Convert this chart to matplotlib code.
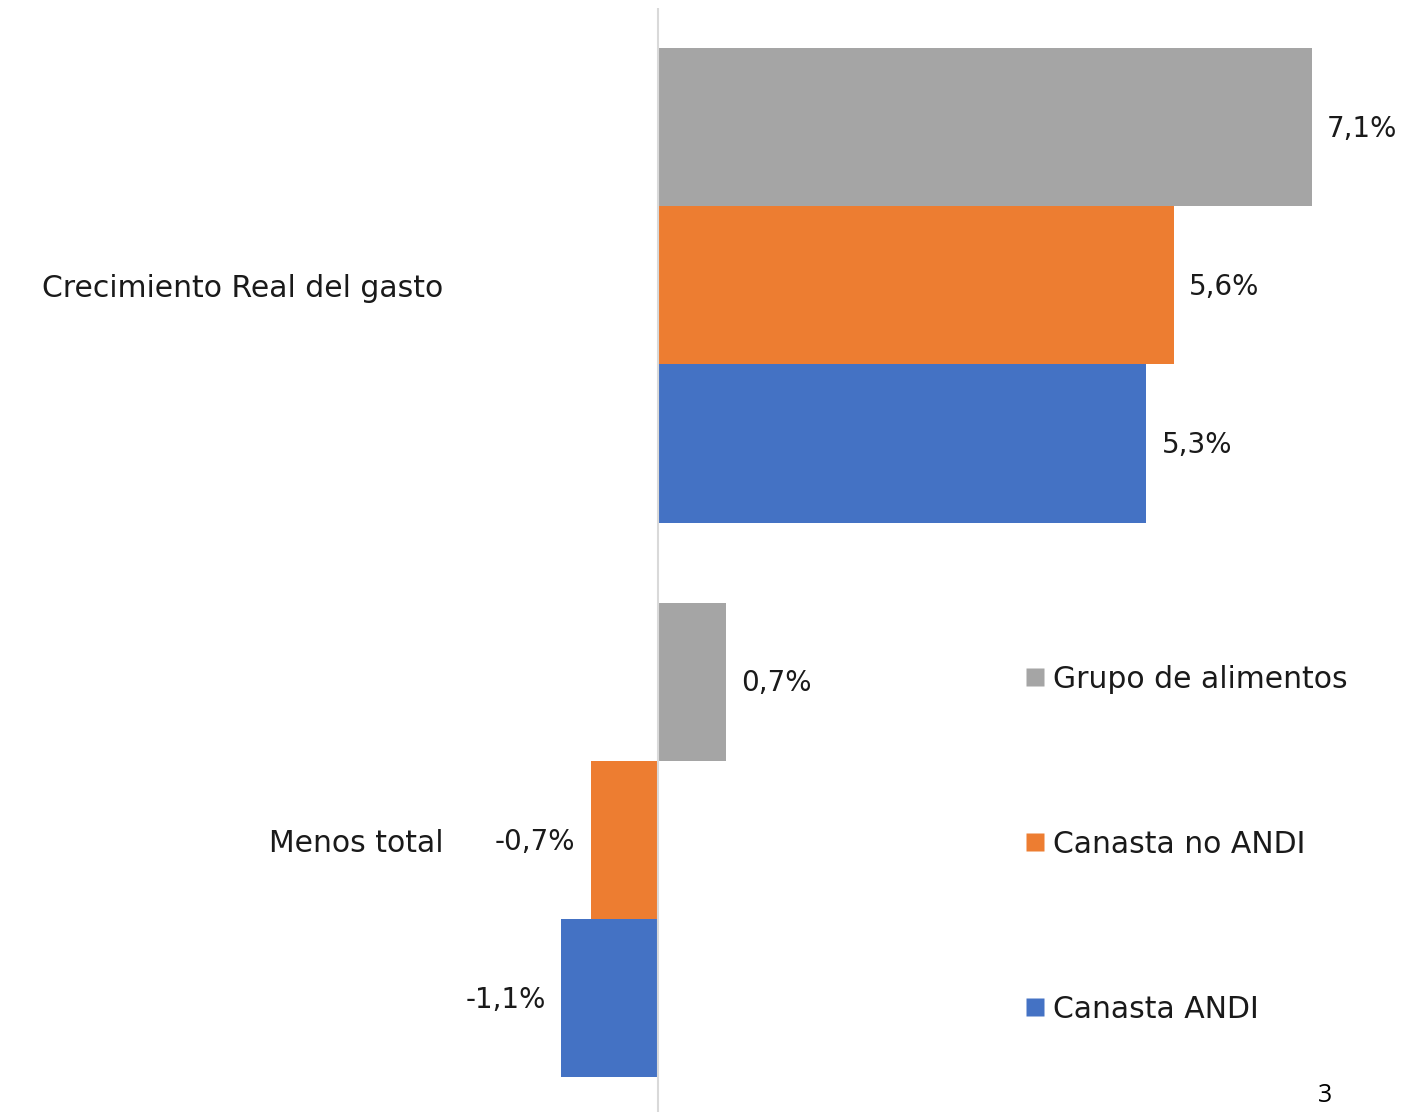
import matplotlib
matplotlib.use("Agg")
import matplotlib.pyplot as plt
from matplotlib.lines import Line2D
import numpy as np

plt.rcParams['font.family'] = ['DejaVu Sans']

categories = ["Crecimiento Real del gasto", "Menos total"]
series_names = ["Grupo de alimentos", "Canasta no ANDI", "Canasta ANDI"]
grupo_alimentos = [7.1, 0.74]
canasta_no_andi = [5.6, -0.73]
canasta_andi = [5.3, -1.05]
colors = ["#A5A5A5", "#ED7D31", "#4472C4"]

W, H = 1425, 1112
fig = plt.figure(figsize=(W / 100, H / 100), dpi=100)

left_px, right_px, top_px = 450, 1400, 8
ax = fig.add_axes([left_px / W, 0, (right_px - left_px) / W, (H - top_px) / H])

scale = 92.1  # px per percent
zero_px = 658
ax.set_xlim((left_px - zero_px) / scale, (right_px - zero_px) / scale)
ax.set_ylim(1.49, -0.5)

y = np.arange(len(categories))
bh = 0.285
offsets = [-bh, 0, bh]
all_series = [grupo_alimentos, canasta_no_andi, canasta_andi]
for vals, off, col in zip(all_series, offsets, colors):
    ax.barh(y + off, vals, height=bh, color=col, edgecolor='none', zorder=2)
    for yy, v in zip(y + off, vals):
        txt = f"{v:.1f}".replace('.', ',') + '%'
        if v >= 0:
            ax.annotate(txt, (v, yy), xytext=(11, -1), textcoords='offset points',
                        ha='left', va='center', fontsize=20, color='#1a1a1a')
        else:
            ax.annotate(txt, (v, yy), xytext=(-11, -1), textcoords='offset points',
                        ha='right', va='center', fontsize=20, color='#1a1a1a')

ax.axvline(0, color='#D9D9D9', lw=1.5, zorder=3)

ax.set_yticks(y)
ax.set_yticklabels(categories, fontsize=21.5, color='#1a1a1a')
ax.tick_params(axis='y', length=0, pad=5)
ax.set_xticks([])
for s in ax.spines.values():
    s.set_visible(False)

handles = [Line2D([0], [0], marker='s', linestyle='none', markersize=13,
                  markerfacecolor=c, markeredgecolor='none') for c in colors]
fig.legend(handles, series_names, loc='upper left',
           bbox_to_anchor=(1008 / W, 1 - 653 / H), frameon=False,
           fontsize=21.5, labelspacing=4.55, handletextpad=0.1,
           handlelength=1.0, borderaxespad=0, labelcolor='#1a1a1a')

fig.text(1325 / W, 1 - 1095 / H, "3", fontsize=18, ha='center', va='center',
         family=['Open Sans', 'DejaVu Sans'])

fig.savefig("out.png", dpi=100)
